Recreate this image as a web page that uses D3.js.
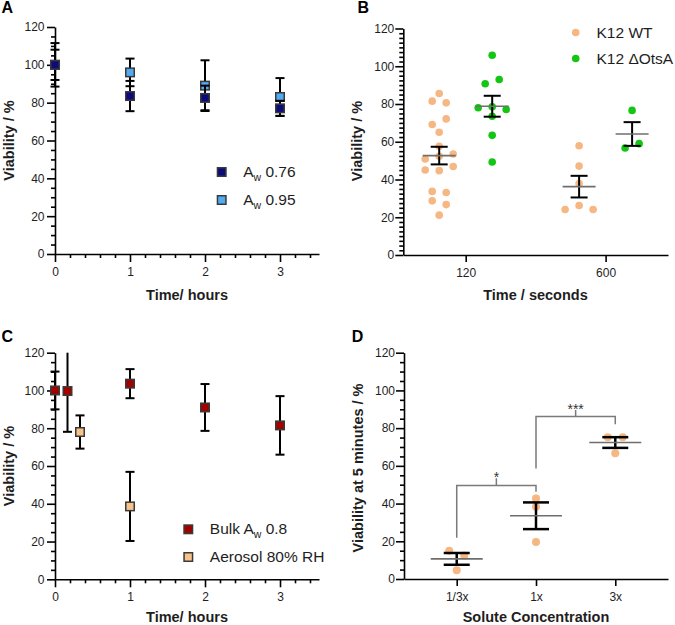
<!DOCTYPE html>
<html><head><meta charset="utf-8">
<script src="https://cdn.jsdelivr.net/npm/d3@7"></script>
<style>body{margin:0;background:#fff}svg{display:block}text{font-family:"Liberation Sans",Arial,sans-serif}</style>
</head><body><svg id="c" width="675" height="625"></svg>
<script>
// ================= DATA =================
const yTicks = [0, 20, 40, 60, 80, 100, 120];
// Panel A (mean ± error, viability %)
const aTimeTicks = [0, 1, 2, 3];
const aTimes = [0, 1, 2, 3];
const aw076Mean = [100, 83.5, 82.5, 77];
const aw076Err  = [8, 8, 6.5, 4];
const aw095Mean = [100, 96, 89, 83];
const aw095Err  = [11.5, 7.3, 13.4, 10];
// Panel B (individual replicates)
const bTimes = ["120", "600"];
const bSeries = ["K12 WT", "K12 ΔOtsA"];
const wt120   = [85.6, 81.5, 80.6, 69.1, 72.1, 65.0, 57.6, 50.9, 52.3, 53.5, 45.0, 44.7, 46.9, 33.7, 33.1, 28.7, 26.7, 21.1];
const otsA120 = [105.8, 90.7, 93.0, 78.0, 78.5, 77.1, 73.5, 63.4, 49.3];
const wt600   = [57.9, 47.1, 37.9, 24.1, 26.2, 24.1];
const otsA600 = [76.6, 56.7, 59.0];
// Panel C (mean ± error)
const cBulkTimes = [0, 1/6, 1, 2, 3];
const cBulkMean  = [100, 99.7, 103.6, 91.0, 81.5];
const cBulkErr   = [10, 21.6, 7.7, 12.4, 15.5];
const cAeroTimes = [1/3, 1];
const cAeroMean  = [78.0, 38.6];
const cAeroErr   = [8.8, 18.3];
// Panel D (individual replicates)
const dCategories = ["1/3x", "1x", "3x"];
const dThird = [15.0, 12.4, 4.6];
const dOne   = [42.7, 38.3, 19.6];
const dThree = [75.2, 75.2, 66.7];
// significance brackets: from, to, bar level, tick top, left leg end, right leg end, label
const dBrFrom  = ["1/3x", "1x"];
const dBrTo    = ["1x", "3x"];
const dBrLevel = [49.6, 86.2];
const dBrTop   = [53.4, 89.6];
const dBrLeft  = [21.9, 58.6];
const dBrRight = [46.3, 82.0];
const dBrLabel = ["*", "***"];

// ================= DRAW =================
const svg = d3.select("#c");
const FONT = '"Liberation Sans", Arial, sans-serif';
const INK = "#1e1e1e";

function styleAxis(g, w) {
  g.attr("font-family", FONT).attr("font-size", 12);
  g.selectAll("path.domain").attr("stroke", "#000").attr("stroke-width", w);
  g.selectAll(".tick line").attr("stroke", "#000").attr("stroke-width", w);
  g.selectAll(".tick text").attr("fill", INK);
}

function yAxis(y, x0, minorStep, pad) {
  const minor = d3.range(0, 120.0001, minorStep).filter(v => Math.abs(v % 20) > 1e-6);
  const gm = svg.append("g").attr("transform", `translate(${x0},0)`)
    .call(d3.axisLeft(y).tickValues(minor).tickSize(4).tickFormat(""));
  gm.select(".domain").remove();
  styleAxis(gm, 1.6);
  const g = svg.append("g").attr("transform", `translate(${x0},0)`)
    .call(d3.axisLeft(y).tickValues(yTicks).tickSize(8).tickSizeOuter(0).tickPadding(pad));
  styleAxis(g, 1.6);
}

function yTitle(txt, x, yc) {
  svg.append("text").attr("transform", `translate(${x},${yc}) rotate(-90)`)
    .attr("text-anchor", "middle").attr("font-weight", "bold").attr("font-size", 14.5)
    .attr("fill", INK).text(txt);
}
function xTitle(txt, x, yb) {
  svg.append("text").attr("x", x).attr("y", yb).attr("text-anchor", "middle")
    .attr("font-weight", "bold").attr("font-size", 14.5).attr("fill", INK).text(txt);
}
function panelLabel(txt, x, yb) {
  svg.append("text").attr("x", x).attr("y", yb).attr("font-weight", "bold")
    .attr("font-size", 16).attr("fill", "#000").text(txt);
}

function hoursAxis(x, y0) {
  const minor = d3.range(0.2, 3.5, 0.2).filter(v => Math.abs(v - Math.round(v)) > 1e-6);
  const gm = svg.append("g").attr("transform", `translate(0,${y0})`)
    .call(d3.axisBottom(x).tickValues(minor).tickSize(4).tickFormat(""));
  gm.select(".domain").remove();
  styleAxis(gm, 1.6);
  const g = svg.append("g").attr("transform", `translate(0,${y0})`)
    .call(d3.axisBottom(x).tickValues(aTimeTicks).tickSize(8).tickSizeOuter(0).tickPadding(5.5).tickFormat(d3.format("d")));
  styleAxis(g, 1.6);
}

function errSquares(x, y, times, means, errs, fill) {
  const g = svg.append("g");
  times.forEach((t, i) => {
    const cx = x(t), m = means[i], e = errs[i];
    const hi = Math.min(120, m + e), lo = m - e;
    g.append("line").attr("x1", cx).attr("x2", cx).attr("y1", y(hi)).attr("y2", y(lo))
      .attr("stroke", "#000").attr("stroke-width", 2);
    const caps = [lo];
    if (m + e <= 120) caps.push(hi);
    caps.forEach(v => g.append("line").attr("x1", cx - 4.5).attr("x2", cx + 4.5)
      .attr("y1", y(v)).attr("y2", y(v)).attr("stroke", "#000").attr("stroke-width", 2));
    g.append("rect").attr("x", cx - 4.25).attr("y", y(m) - 4.25).attr("width", 8.5).attr("height", 8.5)
      .attr("fill", fill).attr("stroke", "#3a3a3a").attr("stroke-width", 1.5);
  });
}

function legendSquare(x, yc, fill, parts) {
  svg.append("rect").attr("x", x - 4.25).attr("y", yc - 4.25).attr("width", 8.5).attr("height", 8.5)
    .attr("fill", fill).attr("stroke", "#3a3a3a").attr("stroke-width", 1.5);
  const t = svg.append("text").attr("x", x + 21.5).attr("y", yc + 5).attr("font-size", 15.5).attr("fill", INK);
  parts.forEach(p => {
    const s = t.append("tspan").text(p.t);
    if (p.sub) s.attr("font-size", 10.5).attr("dy", 3.5);
    else if (p.after) s.attr("dy", -3.5);
  });
}

// beeswarm: group near-equal values into rows, centre each row
function swarm(vals, thr, spacing) {
  const idx = d3.range(vals.length).sort((a, b) => vals[b] - vals[a] || a - b);
  const off = new Array(vals.length).fill(0);
  let row = [];
  const flush = () => {
    row.sort((a, b) => a - b);
    row.forEach((k, j) => off[k] = (j - (row.length - 1) / 2) * spacing);
    row = [];
  };
  idx.forEach(k => {
    if (row.length && vals[row[0]] - vals[k] > thr) flush();
    row.push(k);
  });
  flush();
  return off;
}

function dotGroup(cx, y, vals, color, r, spacing, meanHalf, capHalf, capW) {
  const off = swarm(vals, 3.5, spacing);
  const g = svg.append("g");
  vals.forEach((v, i) => g.append("circle").attr("cx", cx + off[i]).attr("cy", y(v)).attr("r", r).attr("fill", color));
  const m = d3.mean(vals), se = d3.deviation(vals) / Math.sqrt(vals.length);
  g.append("line").attr("x1", cx).attr("x2", cx).attr("y1", y(m + se)).attr("y2", y(m - se))
    .attr("stroke", "#000").attr("stroke-width", capW);
  [m + se, m - se].forEach(v => g.append("line").attr("x1", cx - capHalf).attr("x2", cx + capHalf)
    .attr("y1", y(v)).attr("y2", y(v)).attr("stroke", "#000").attr("stroke-width", capW));
  g.append("line").attr("x1", cx - meanHalf).attr("x2", cx + meanHalf).attr("y1", y(m)).attr("y2", y(m))
    .attr("stroke", "#6e6e6e").attr("stroke-width", 1.6);
}

const NAVY = "#0b0b7c", LIGHTBLUE = "#52abf0", DARKRED = "#a30000", PEACH = "#f8c28c";
const ORANGE = "#f6b783", GREEN = "#14c614";

// ---------- Panel A ----------
{
  const x = d3.scaleLinear().domain([0, 3.52]).range([55, 319]);
  const y = d3.scaleLinear().domain([0, 120]).range([254, 27]);
  hoursAxis(x, 254);
  yAxis(y, 55, 5, 2.5);
  errSquares(x, y, aTimes, aw095Mean, aw095Err, LIGHTBLUE);
  errSquares(x, y, aTimes, aw076Mean, aw076Err, NAVY);
  legendSquare(221.7, 172, NAVY, [{t: "A"}, {t: "w", sub: true}, {t: " 0.76", after: true}]);
  legendSquare(221.7, 200, LIGHTBLUE, [{t: "A"}, {t: "w", sub: true}, {t: " 0.95", after: true}]);
  yTitle("Viability / %", 13.5, 140.5);
  xTitle("Time/ hours", 187, 300);
  panelLabel("A", 1.5, 13.3);
}

// ---------- Panel B ----------
{
  const x0 = d3.scalePoint().domain(bTimes).range([403.3, 668]).padding(0.446);
  const x1 = d3.scalePoint().domain(bSeries).range([-26.5, 26.5]);
  const y = d3.scaleLinear().domain([0, 120]).range([255, 28.5]);
  const gx = svg.append("g").attr("transform", "translate(0,255)")
    .call(d3.axisBottom(x0).tickSize(7).tickSizeOuter(0).tickPadding(6));
  styleAxis(gx, 1.6);
  yAxis(y, 403.3, 2.5, 1);
  const groups = [[wt120, "120", bSeries[0], ORANGE], [otsA120, "120", bSeries[1], GREEN],
                  [wt600, "600", bSeries[0], ORANGE], [otsA600, "600", bSeries[1], GREEN]];
  groups.forEach(([vals, t, s, c]) => dotGroup(x0(t) + x1(s), y, vals, c, 3.8, 14, 16.5, 8.5, 2));
  [[bSeries[0], ORANGE, 32.5], [bSeries[1], GREEN, 58.5]].forEach(([name, c, yy]) => {
    svg.append("circle").attr("cx", 575.7).attr("cy", yy).attr("r", 3.8).attr("fill", c);
    svg.append("text").attr("x", 596.5).attr("y", yy + 5.8).attr("font-size", 15.5).attr("fill", INK).text(name);
  });
  yTitle("Viability / %", 361.5, 141);
  xTitle("Time / seconds", 535.5, 300);
  panelLabel("B", 357.5, 13.3);
}

// ---------- Panel C ----------
{
  const x = d3.scaleLinear().domain([0, 3.52]).range([55, 319]);
  const y = d3.scaleLinear().domain([0, 120]).range([579.3, 352.7]);
  hoursAxis(x, 579.3);
  yAxis(y, 55, 5, 2.5);
  errSquares(x, y, cBulkTimes, cBulkMean, cBulkErr, DARKRED);
  errSquares(x, y, cAeroTimes, cAeroMean, cAeroErr, PEACH);
  legendSquare(188.3, 529.3, DARKRED, [{t: "Bulk A"}, {t: "w", sub: true}, {t: " 0.8", after: true}]);
  legendSquare(188.3, 557, PEACH, [{t: "Aerosol 80% RH"}]);
  yTitle("Viability / %", 13.5, 466);
  xTitle("Time/ hours", 187, 621.5);
  panelLabel("C", 1.5, 341.7);
}

// ---------- Panel D ----------
{
  const x = d3.scalePoint().domain(dCategories).range([404, 668]).padding(0.665);
  const y = d3.scaleLinear().domain([0, 120]).range([579, 352.7]);
  const gx = svg.append("g").attr("transform", "translate(0,579)")
    .call(d3.axisBottom(x).tickSize(7).tickSizeOuter(0).tickPadding(6));
  styleAxis(gx, 1.6);
  yAxis(y, 404, 5, 1);
  [[dThird, "1/3x"], [dOne, "1x"], [dThree, "3x"]].forEach(([vals, c]) =>
    dotGroup(x(c), y, vals, ORANGE, 4, 15, 26, 13, 2.5));
  dBrFrom.forEach((f, i) => {
    const xa = x(f), xb = x(dBrTo[i]), xm = (xa + xb) / 2;
    const g = svg.append("g").attr("stroke", "#7a7a7a").attr("stroke-width", 1.5).attr("fill", "none");
    g.append("path").attr("d", `M${xa},${y(dBrLeft[i])}V${y(dBrLevel[i])}H${xb}V${y(dBrRight[i])}M${xm},${y(dBrLevel[i])}V${y(dBrTop[i])}`);
    svg.append("text").attr("x", xm).attr("y", y(dBrTop[i]) + 3.5).attr("text-anchor", "middle")
      .attr("font-size", 14).attr("fill", "#333").text(dBrLabel[i]);
  });
  yTitle("Viability at 5 minutes / %", 362.5, 468);
  xTitle("Solute Concentration", 536, 621.5);
  panelLabel("D", 351.7, 342);
}
</script></body></html>
